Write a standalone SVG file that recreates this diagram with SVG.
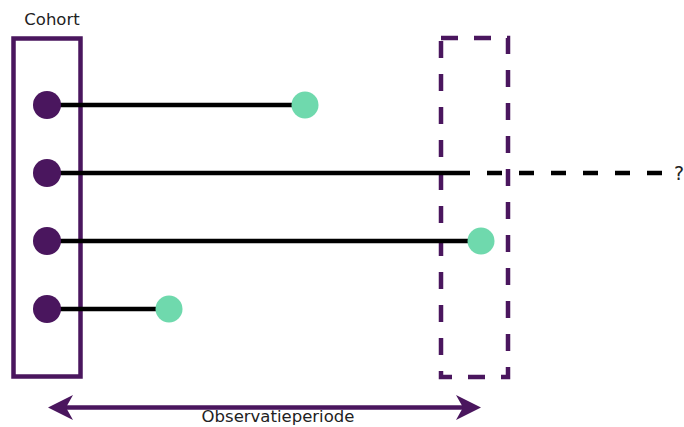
<svg xmlns="http://www.w3.org/2000/svg" width="684" height="427" viewBox="0 0 684 427">
<style>
.box{fill:none;stroke:#4a165e;stroke-width:4.5}
.dbox{fill:none;stroke:#4a165e;stroke-width:4.5;stroke-dasharray:17 16}
.life{stroke:#000;stroke-width:4.5;fill:none}
.dash{stroke:#000;stroke-width:4.5;stroke-dasharray:15 17;fill:none}
.start{fill:#4a165e}
.end{fill:#6fd9ad}
.lbl{font-family:"DejaVu Sans",sans-serif;fill:#222}
.arr{stroke:#4a165e;stroke-width:4.5;fill:none}
.head{fill:#4a165e}
</style>
<rect width="684" height="427" fill="#fff"/>
<g id="cohort">
<rect class="box" x="13.5" y="38.5" width="67" height="338"/>
<text class="lbl" x="52" y="25" font-size="16.5" text-anchor="middle">Cohort</text>
</g>
<g id="observatie-einde">
<rect class="dbox" x="441" y="38" width="67" height="339"/>
</g>
<g id="connectors">
<line class="life" x1="47" y1="105" x2="305" y2="105"/>
<line class="life" x1="47" y1="173" x2="470" y2="173"/>
<line class="dash" x1="487" y1="173" x2="666" y2="173"/>
<line class="life" x1="47" y1="241" x2="481" y2="241"/>
<line class="life" x1="47" y1="309" x2="169" y2="309"/>
<line class="arr" x1="60" y1="407.5" x2="468" y2="407.5"/>
<path class="head" d="M48,407.5 L73,395 L66,407.5 L73,420 Z"/>
<path class="head" d="M481,407.5 L456,395 L463,407.5 L456,420 Z"/>
</g>
<g id="p1"><circle class="start" cx="47" cy="105" r="14"/><circle class="end" cx="305" cy="105" r="13.5"/></g>
<g id="p2"><circle class="start" cx="47" cy="173" r="14"/><text class="lbl" x="679" y="180" font-size="19" text-anchor="middle">?</text></g>
<g id="p3"><circle class="start" cx="47" cy="241" r="14"/><circle class="end" cx="481" cy="241" r="13.5"/></g>
<g id="p4"><circle class="start" cx="47" cy="309" r="14"/><circle class="end" cx="169" cy="309" r="13.5"/></g>
<g id="observatieperiode">
<text class="lbl" x="278" y="422" font-size="16.5" text-anchor="middle">Observatieperiode</text>
</g>
</svg>
